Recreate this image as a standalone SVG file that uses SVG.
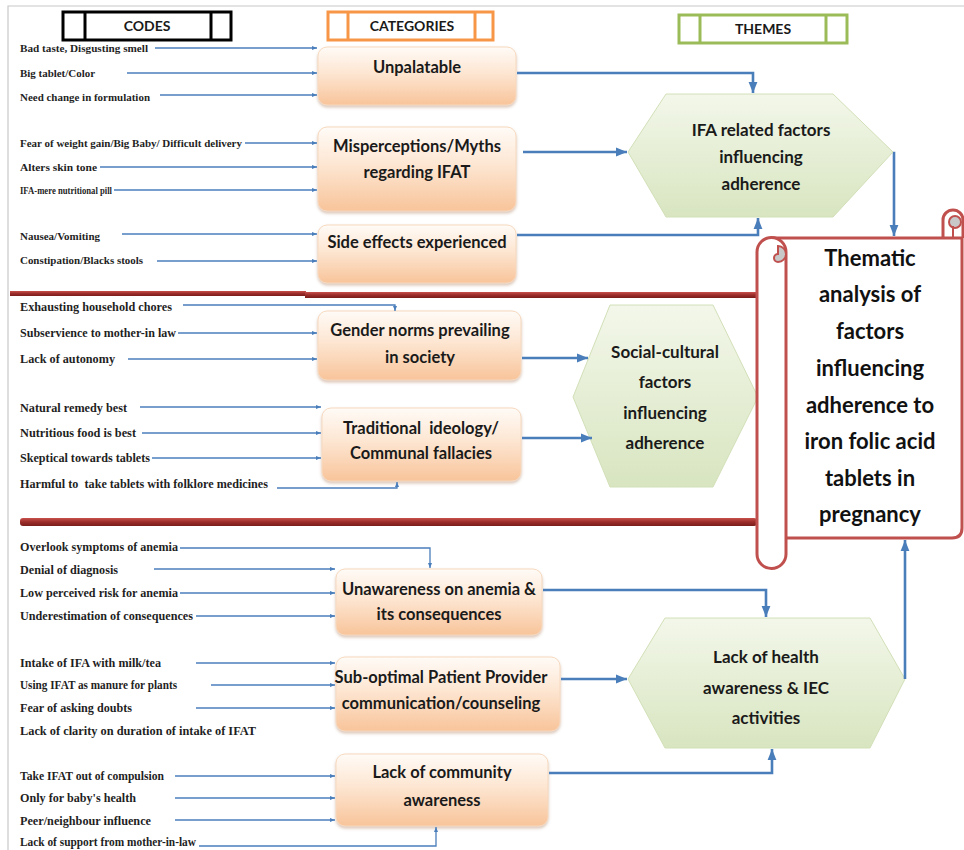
<svg xmlns="http://www.w3.org/2000/svg" width="964" height="850" viewBox="0 0 964 850">
<defs>
<linearGradient id="gBox" x1="0" y1="0" x2="0" y2="1"><stop offset="0" stop-color="#fffbf7"/><stop offset="0.45" stop-color="#fde6d2"/><stop offset="1" stop-color="#f8c49a"/></linearGradient>
<linearGradient id="gHex" x1="0" y1="0" x2="0" y2="1"><stop offset="0" stop-color="#f3f7ea"/><stop offset="1" stop-color="#d8e5c0"/></linearGradient>
<linearGradient id="gBar" x1="0" y1="0" x2="0" y2="1"><stop offset="0" stop-color="#c8504c"/><stop offset="0.5" stop-color="#9b2d2a"/><stop offset="1" stop-color="#7a1d1b"/></linearGradient>
<filter id="sh" x="-5%" y="-5%" width="110%" height="120%"><feDropShadow dx="0" dy="2" stdDeviation="1.5" flood-color="#b08060" flood-opacity="0.45"/></filter>
<marker id="a" viewBox="0 0 10 10" refX="10" refY="5" markerWidth="5" markerHeight="5" markerUnits="userSpaceOnUse" orient="auto"><path d="M0,1 L10,5 L0,9 Z" fill="#4a7ebb"/></marker>
<marker id="b" viewBox="0 0 10 10" refX="10" refY="5" markerWidth="11" markerHeight="11" markerUnits="userSpaceOnUse" orient="auto"><path d="M0,1 L10,5 L0,9 Z" fill="#4a7ebb"/></marker>
</defs>
<style>
.code{font-family:"Liberation Serif",serif;font-weight:bold;font-size:11px;fill:#1f1f1f}
.c2{font-size:12px}
.cat{font-family:Lato,"Liberation Sans",sans-serif;font-weight:bold;font-size:16.5px;fill:#1a1a1a;text-anchor:middle}
.hex{font-family:Lato,"Liberation Sans",sans-serif;font-weight:bold;font-size:17px;fill:#1a1a1a;text-anchor:middle}
.hdr{font-family:Lato,"Liberation Sans",sans-serif;font-weight:bold;font-size:14px;fill:#1a1a1a;text-anchor:middle}
.scr{font-family:Lato,"Liberation Sans",sans-serif;font-weight:bold;font-size:22px;fill:#111;text-anchor:middle}
.box{fill:url(#gBox);stroke:#f6d9bf;stroke-width:1;filter:url(#sh)}
.hx{fill:url(#gHex);stroke:#d2e0b8;stroke-width:1}
.thin{fill:none;stroke:#4a7ebb;stroke-width:1.3;marker-end:url(#a)}
.thick{fill:none;stroke:#4a7ebb;stroke-width:2.6;marker-end:url(#b)}
.scroll{fill:#fff;stroke:#c0504d;stroke-width:3}
</style>
<rect width="964" height="850" fill="#fff"/>
<path d="M8,850 V6 H964" fill="none" stroke="#c8c8c8" stroke-width="1.2"/>

<!-- headers -->
<g id="hdr-codes">
<rect x="63" y="12" width="168" height="28" fill="#fff" stroke="#000" stroke-width="3"/>
<line x1="85" y1="12" x2="85" y2="40" stroke="#000" stroke-width="3"/>
<line x1="211" y1="12" x2="211" y2="40" stroke="#000" stroke-width="3"/>
<text class="hdr" x="147" y="31">CODES</text>
</g>
<g id="hdr-categories">
<rect x="328" y="12" width="165" height="28" fill="#fff" stroke="#f79646" stroke-width="3"/>
<line x1="348" y1="12" x2="348" y2="40" stroke="#f79646" stroke-width="3"/>
<line x1="475" y1="12" x2="475" y2="40" stroke="#f79646" stroke-width="3"/>
<text class="hdr" x="412" y="31">CATEGORIES</text>
</g>
<g id="hdr-themes">
<rect x="679" y="15" width="168" height="28" fill="#fff" stroke="#9bbb59" stroke-width="3"/>
<line x1="700" y1="15" x2="700" y2="43" stroke="#9bbb59" stroke-width="3"/>
<line x1="826" y1="15" x2="826" y2="43" stroke="#9bbb59" stroke-width="3"/>
<text class="hdr" x="763" y="34">THEMES</text>
</g>

<!-- divider bars -->
<rect x="10" y="291" width="296" height="5" fill="url(#gBar)"/>
<rect x="305" y="292" width="452" height="6" fill="url(#gBar)"/>
<rect x="20" y="518" width="737" height="8" rx="3" fill="url(#gBar)"/>

<!-- codes -->
<g id="codes">
<text class="code" x="20" y="52" textLength="128" lengthAdjust="spacingAndGlyphs">Bad taste, Disgusting smell</text>
<text class="code" x="20" y="77" textLength="75" lengthAdjust="spacingAndGlyphs">Big tablet/Color</text>
<text class="code" x="20" y="101" textLength="130" lengthAdjust="spacingAndGlyphs">Need change in formulation</text>
<text class="code" x="20" y="147" textLength="222" lengthAdjust="spacingAndGlyphs">Fear of weight gain/Big Baby/ Difficult delivery</text>
<text class="code" x="20" y="171" textLength="77" lengthAdjust="spacingAndGlyphs">Alters skin tone</text>
<text class="code" x="20" y="194" textLength="92" lengthAdjust="spacingAndGlyphs" style="font-size:10.5px">IFA-mere nutritional pill</text>
<text class="code" x="20" y="240" textLength="80" lengthAdjust="spacingAndGlyphs">Nausea/Vomiting</text>
<text class="code" x="20" y="264" textLength="123" lengthAdjust="spacingAndGlyphs">Constipation/Blacks stools</text>
<text class="code c2" x="20" y="311" textLength="152" lengthAdjust="spacingAndGlyphs">Exhausting household chores</text>
<text class="code c2" x="20" y="337" textLength="156" lengthAdjust="spacingAndGlyphs">Subservience to mother-in law</text>
<text class="code c2" x="20" y="363" textLength="95" lengthAdjust="spacingAndGlyphs">Lack of autonomy</text>
<text class="code c2" x="20" y="412" textLength="107" lengthAdjust="spacingAndGlyphs">Natural remedy best</text>
<text class="code c2" x="20" y="437" textLength="116" lengthAdjust="spacingAndGlyphs">Nutritious food is best</text>
<text class="code c2" x="20" y="462" textLength="130" lengthAdjust="spacingAndGlyphs">Skeptical towards tablets</text>
<text class="code c2" x="20" y="488" textLength="248" lengthAdjust="spacingAndGlyphs" style="white-space:pre">Harmful to  take tablets with folklore medicines</text>
<text class="code c2" x="20" y="551" textLength="158" lengthAdjust="spacingAndGlyphs">Overlook symptoms of anemia</text>
<text class="code c2" x="20" y="574" textLength="98" lengthAdjust="spacingAndGlyphs">Denial of diagnosis</text>
<text class="code c2" x="20" y="597" textLength="158" lengthAdjust="spacingAndGlyphs">Low perceived risk for anemia</text>
<text class="code c2" x="20" y="620" textLength="173" lengthAdjust="spacingAndGlyphs">Underestimation of consequences</text>
<text class="code c2" x="20" y="667" textLength="141" lengthAdjust="spacingAndGlyphs">Intake of IFA with milk/tea</text>
<text class="code c2" x="20" y="689" textLength="157" lengthAdjust="spacingAndGlyphs">Using IFAT as manure for plants</text>
<text class="code c2" x="20" y="712" textLength="112" lengthAdjust="spacingAndGlyphs">Fear of asking doubts</text>
<text class="code c2" x="20" y="735" textLength="236" lengthAdjust="spacingAndGlyphs">Lack of clarity on duration of intake of IFAT</text>
<text class="code c2" x="20" y="780" textLength="144" lengthAdjust="spacingAndGlyphs">Take IFAT out of compulsion</text>
<text class="code c2" x="20" y="802" textLength="116" lengthAdjust="spacingAndGlyphs">Only for baby's health</text>
<text class="code c2" x="20" y="825" textLength="131" lengthAdjust="spacingAndGlyphs">Peer/neighbour influence</text>
<text class="code c2" x="20" y="846" textLength="176" lengthAdjust="spacingAndGlyphs">Lack of support from mother-in-law</text>
</g>

<!-- category boxes -->
<g id="cat-unpalatable"><rect class="box" x="318" y="47" width="198" height="58" rx="9"/><text class="cat" x="417" y="73">Unpalatable</text></g>
<g id="cat-misperceptions"><rect class="box" x="318" y="127" width="198" height="84" rx="9"/><text class="cat" x="417" y="152">Misperceptions/Myths</text><text class="cat" x="417" y="178">regarding IFAT</text></g>
<g id="cat-sideeffects"><rect class="box" x="318" y="225" width="198" height="58" rx="9"/><text class="cat" x="417" y="248">Side effects experienced</text></g>
<g id="cat-gender"><rect class="box" x="318" y="311" width="203" height="69" rx="9"/><text class="cat" x="420" y="336">Gender norms prevailing</text><text class="cat" x="420" y="363">in society</text></g>
<g id="cat-traditional"><rect class="box" x="322" y="408" width="199" height="73" rx="9"/><text class="cat" x="421" y="434" style="white-space:pre">Traditional  ideology/</text><text class="cat" x="421" y="459">Communal fallacies</text></g>
<g id="cat-unawareness"><rect class="box" x="336" y="569" width="206" height="66" rx="9"/><text class="cat" x="439" y="595">Unawareness on anemia &amp;</text><text class="cat" x="439" y="620">its consequences</text></g>
<g id="cat-suboptimal"><rect class="box" x="336" y="657" width="224" height="74" rx="9"/><text class="cat" x="441" y="683">Sub-optimal Patient Provider</text><text class="cat" x="441" y="709">communication/counseling</text></g>
<g id="cat-community"><rect class="box" x="336" y="754" width="212" height="72" rx="9"/><text class="cat" x="442" y="778">Lack of community</text><text class="cat" x="442" y="806">awareness</text></g>

<!-- themes -->
<g id="theme-ifa"><path class="hx" d="M628,152 L666,94 L833,94 L893,152 L833,217 L666,217 Z"/><text class="hex" x="761" y="136">IFA related factors</text><text class="hex" x="761" y="163">influencing</text><text class="hex" x="761" y="190">adherence</text></g>
<g id="theme-social"><path class="hx" d="M573,397 L610,305 L713,305 L758,397 L713,487 L610,487 Z"/><text class="hex" x="665" y="358">Social-cultural</text><text class="hex" x="665" y="388">factors</text><text class="hex" x="665" y="419">influencing</text><text class="hex" x="665" y="449">adherence</text></g>
<g id="theme-health"><path class="hx" d="M628,679 L665,618 L870,618 L905,679 L870,748 L665,748 Z"/><text class="hex" x="766" y="663">Lack of health</text><text class="hex" x="766" y="694">awareness &amp; IEC</text><text class="hex" x="766" y="724">activities</text></g>

<!-- scroll -->
<g id="scroll">
<path class="scroll" d="M943,238 V220 A10,10 0 0 1 963,220 V238"/>
<circle cx="955" cy="222" r="6" fill="#c8c8c8" stroke="#c0504d" stroke-width="2"/>
<line x1="953" y1="226" x2="953" y2="238" stroke="#c0504d" stroke-width="2"/>
<path class="scroll" d="M772,238 H962 V528 Q962,538 952,538 H772 Z"/>
<path class="scroll" d="M757,252 A14.5,14.5 0 0 1 786,252 V554 A14.5,14.5 0 0 1 757,554 Z"/>
<path d="M778,246 A8,8 0 0 1 778,262 A4,4 0 0 1 778,254 Z" fill="#c8c8c8" stroke="#c0504d" stroke-width="2"/>
<text class="scr" x="870" y="266">Thematic</text>
<text class="scr" x="870" y="302">analysis of</text>
<text class="scr" x="870" y="339">factors</text>
<text class="scr" x="870" y="376">influencing</text>
<text class="scr" x="870" y="413">adherence to</text>
<text class="scr" x="870" y="449">iron folic acid</text>
<text class="scr" x="870" y="486">tablets in</text>
<text class="scr" x="870" y="522">pregnancy</text>
</g>

<!-- connectors -->
<g id="connectors">
<path class="thin" d="M155,48 H317"/>
<path class="thin" d="M127,73 H317"/>
<path class="thin" d="M160,95 H317"/>
<path class="thin" d="M245,143 H317"/>
<path class="thin" d="M100,167 H317"/>
<path class="thin" d="M114,190 H317"/>
<path class="thin" d="M122,234 H317"/>
<path class="thin" d="M157,261 H317"/>
<path class="thin" d="M183,305 H395 V311"/>
<path class="thin" d="M178,333 H317"/>
<path class="thin" d="M128,359 H317"/>
<path class="thin" d="M140,407 H321"/>
<path class="thin" d="M142,433 H321"/>
<path class="thin" d="M152,458 H321"/>
<path class="thin" d="M277,488 H397 V482"/>
<path class="thin" d="M180,548 H430 V568"/>
<path class="thin" d="M154,569 H335"/>
<path class="thin" d="M180,593 H335"/>
<path class="thin" d="M196,616 H335"/>
<path class="thin" d="M196,663 H335"/>
<path class="thin" d="M211,685 H335"/>
<path class="thin" d="M196,708 H335"/>
<path class="thin" d="M175,776 H335"/>
<path class="thin" d="M175,798 H335"/>
<path class="thin" d="M175,820 H335"/>
<path class="thin" d="M199,846 H436 V827"/>
<path class="thick" d="M517,73 H753 V93"/>
<path class="thick" d="M523,152 H627"/>
<path class="thick" d="M517,235 H758 V218"/>
<path class="thick" d="M893,153 H894 V236"/>
<path class="thick" d="M522,358 H588"/>
<path class="thick" d="M522,438 H592"/>
<path class="thick" d="M543,590 H766 V617"/>
<path class="thick" d="M561,679 H627"/>
<path class="thick" d="M549,773 H772 V749"/>
<path class="thick" d="M905,679 V540"/>
</g>
</svg>
